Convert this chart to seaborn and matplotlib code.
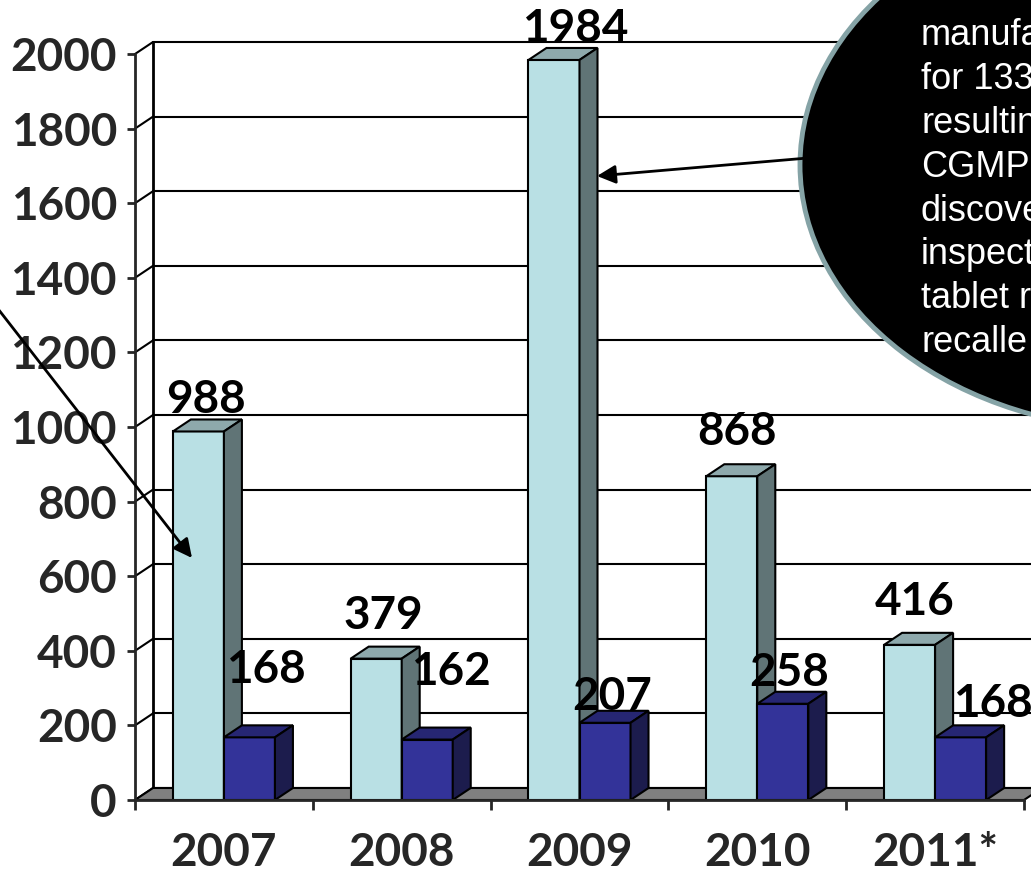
import matplotlib
matplotlib.use("Agg")
import matplotlib.pyplot as plt
import seaborn as sns
import pandas as pd
from matplotlib.patches import Polygon, Ellipse

# ---------------- data ----------------
years = ["2007", "2008", "2009", "2010", "2011*"]
series_a = [988, 379, 1984, 868, 416]
series_b = [168, 162, 207, 258, 168]
series_names = ["Series A", "Series B"]
y_ticks = [0, 200, 400, 600, 800, 1000, 1200, 1400, 1600, 1800, 2000]
callout_lines = ["manufa", "for 133", "resultin", "CGMP", "discove",
                 "inspect", "tablet r", "recalle"]

# ---------------- style ----------------
sns.set_style("white")
plt.rcParams["font.family"] = ["Lato", "DejaVu Sans"]
WEIGHT = "bold"

LIGHT_FRONT, LIGHT_TOP, LIGHT_SIDE = "#B9E0E4", "#8EA9AC", "#607476"
DARK_FRONT, DARK_TOP, DARK_SIDE = "#333399", "#262673", "#1C1C4D"
FLOOR = "#808080"

df = pd.DataFrame({
    "year": years * 2,
    "value": series_a + series_b,
    "series": [series_names[0]] * len(years) + [series_names[1]] * len(years),
})

W, H = 1031, 876
fig = plt.figure(figsize=(W / 100, H / 100), dpi=100)
ax = fig.add_axes([135 / W, (H - 800) / H, (1024 - 135) / W, (800 - 54) / H])

sns.barplot(data=df, x="year", y="value", hue="series",
            palette=[LIGHT_FRONT, DARK_FRONT], saturation=1, width=0.574,
            edgecolor="black", linewidth=1.5, legend=False, ax=ax)

ax.set_xlim(-0.5, len(years) - 0.5)
ax.set_ylim(0, 2000)

# depth of pseudo-3D effect (data units)
DX = 18 / 177.8
DY = 12 / 0.373

# floor
n = len(years)
floor = Polygon([(-0.5, 0), (n - 0.5, 0), (n - 0.5 + DX, DY), (-0.5 + DX, DY)],
                closed=True, facecolor=FLOOR, edgecolor="black", lw=1.5,
                zorder=1, clip_on=False)
ax.add_patch(floor)

# back wall grid + connectors
for v in y_ticks:
    ax.plot([-0.5 + DX, n - 0.5 + DX + 0.2], [v + DY, v + DY], color="black",
            lw=1.5, zorder=0.5, clip_on=False)
    ax.plot([-0.5, -0.5 + DX], [v, v + DY], color="black", lw=1.5,
            zorder=0.6, clip_on=False)
ax.plot([-0.5 + DX, -0.5 + DX], [DY, 2000 + DY], color="black", lw=2,
        zorder=0.6, clip_on=False)

# 3D faces for bars
faces = [(LIGHT_TOP, LIGHT_SIDE, 3), (DARK_TOP, DARK_SIDE, 5)]
for cont, (ctop, cside, z) in zip(ax.containers, faces):
    for p in cont.patches:
        p.set_zorder(z)
        x0 = p.get_x()
        w = p.get_width()
        h = p.get_height()
        x1 = x0 + w
        top = Polygon([(x0, h), (x1, h), (x1 + DX, h + DY), (x0 + DX, h + DY)],
                      closed=True, facecolor=ctop, edgecolor="black", lw=1.5,
                      zorder=z, clip_on=False)
        side = Polygon([(x1, 0), (x1 + DX, DY), (x1 + DX, h + DY), (x1, h)],
                       closed=True, facecolor=cside, edgecolor="black", lw=1.5,
                       zorder=z, clip_on=False)
        ax.add_patch(top)
        ax.add_patch(side)

# value labels (pixel nudges relative to top-back centre of each bar)
nudges = [
    [(-1.5, 6), (-1.5, 18), (12, 6), (-4, 19), (-4, 18)],
    [(7.5, 42), (15, 43), (-2, 1), (-3, 6), (23, 8)],
]
for cont, vals, nd in zip(ax.containers, [series_a, series_b], nudges):
    for p, v, (ndx, ndy) in zip(cont.patches, vals, nd):
        xc = p.get_x() + p.get_width() / 2 + DX / 2
        ax.annotate(str(v), xy=(xc, v + DY), xytext=(ndx, ndy),
                    textcoords="offset pixels", ha="center", va="baseline",
                    fontsize=33, fontweight=WEIGHT, color="black",
                    zorder=10, annotation_clip=False)

# axes styling
for s in ["top", "right"]:
    ax.spines[s].set_visible(False)
ax.spines["left"].set_linewidth(2)
ax.spines["bottom"].set_linewidth(2)
ax.spines["left"].set_zorder(6)
ax.spines["bottom"].set_zorder(6)
ax.set_yticks(y_ticks)
ax.set_yticklabels([str(t) for t in y_ticks], fontsize=33, fontweight=WEIGHT)
ax.tick_params(axis="y", direction="out", length=6, width=2, pad=7, left=True)
ax.set_xticks(range(n))
ax.set_xticklabels(years, fontsize=33, fontweight=WEIGHT)
ax.set_xticks([i - 0.5 for i in range(n + 1)], minor=True)
ax.tick_params(axis="x", which="major", length=0, pad=23)
ax.tick_params(axis="x", which="minor", direction="out", length=7.5, width=2,
               bottom=True)
ax.set_xlabel("")
ax.set_ylabel("")
ax.grid(False)
ax.set_facecolor("none")

# ---------------- overlay annotations (pixel space) ----------------
ov = fig.add_axes([0, 0, 1, 1], zorder=20)
ov.set_xlim(0, W)
ov.set_ylim(H, 0)
ov.axis("off")
ov.patch.set_alpha(0)

ell = Ellipse((1150, 165), width=700, height=530, facecolor="black",
              edgecolor="#85A3A6", lw=3.5)
ov.add_patch(ell)
for i, line in enumerate(callout_lines):
    ov.text(921, 45 + i * 43.9, line, color="white", fontsize=26,
            family=["Liberation Sans", "DejaVu Sans"], va="baseline", ha="left")

arrow = dict(arrowstyle="-|>", color="black", lw=2, mutation_scale=28,
             shrinkA=0, shrinkB=0)
ov.annotate("", xy=(597, 176), xytext=(808, 158), arrowprops=arrow)
ov.annotate("", xy=(192, 558), xytext=(-5, 305), arrowprops=arrow)

fig.savefig("out.png", dpi=100)
